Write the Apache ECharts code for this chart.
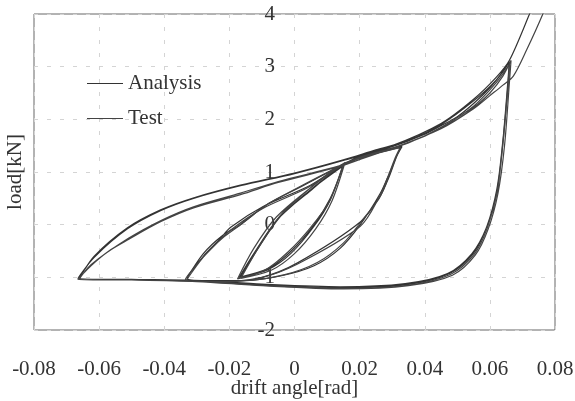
<!DOCTYPE html>
<html>
<head>
<meta charset="utf-8">
<script src="https://cdn.jsdelivr.net/npm/echarts@6/dist/echarts.min.js"></script>
<style>
html,body{margin:0;padding:0;background:#fff;}
#chart{width:575px;height:401px;}
</style>
</head>
<body>
<div id="chart"></div>
<script>
// Drift angle [rad] and load [kN]
const analysisDrift = [
  -0.0043, 0.0049, 0.015,
  0.011, 0.006, -0.001, -0.008, -0.0166,
  -0.0114, -0.0043, 0.0049, 0.015,
  0.011, 0.006, -0.001, -0.008, -0.017,
  -0.012, -0.005, 0.005, 0.015, 0.022, 0.028, 0.033,
  0.0314, 0.029, 0.0264, 0.0202, 0.014, 0.006, -0.004, -0.015, -0.025, -0.033,
  -0.028, -0.023, -0.0196, -0.0095, 0.0049, 0.015, 0.022, 0.028, 0.033,
  0.0314, 0.029, 0.0264, 0.0202, 0.0008, -0.01, -0.02, -0.033,
  -0.028, -0.022, -0.0166, -0.008, 0.002, 0.013, 0.02, 0.03, 0.04, 0.045, 0.05, 0.055, 0.06, 0.064, 0.066,
  0.0657, 0.0641, 0.0621, 0.0591, 0.055, 0.0478, 0.0345, 0.014, -0.01, -0.03, -0.05, -0.066,
  -0.0615, -0.0513, -0.0411, -0.0309, -0.0166, 0.0, 0.015, 0.025, 0.035, 0.045, 0.055, 0.062, 0.066,
  0.0655, 0.064, 0.062, 0.059, 0.0545, 0.047, 0.034, 0.014, -0.01, -0.03, -0.05, -0.0665,
  -0.0615, -0.0513, -0.041, -0.031, -0.0166, 0.0, 0.015, 0.03, 0.045, 0.055, 0.062, 0.066, 0.0723, 0.074
];
const analysisLoad = [
  0.16, 0.66, 1.15,
  0.47, -0.03, -0.54, -0.85, -1.0,
  -0.47, 0.16, 0.66, 1.12,
  0.5, 0.0, -0.5, -0.83, -1.0,
  -0.5, 0.12, 0.65, 1.15, 1.3, 1.4, 1.48,
  1.3, 0.95, 0.6, 0.0, -0.45, -0.78, -0.97, -1.06, -1.06, -1.02,
  -0.6, -0.28, -0.05, 0.35, 0.75, 1.15, 1.32, 1.42, 1.5,
  1.3, 0.9, 0.55, 0.05, -0.73, -1.0, -1.07, -1.03,
  -0.55, -0.2, 0.0, 0.4, 0.72, 1.08, 1.3, 1.48, 1.72, 1.88, 2.05, 2.3, 2.6, 2.9, 3.1,
  2.8, 1.61, 0.66, -0.03, -0.54, -0.92, -1.14, -1.2, -1.15, -1.07, -1.04, -1.02,
  -0.6, -0.06, 0.28, 0.51, 0.75, 0.98, 1.23, 1.42, 1.6, 1.9, 2.35, 2.75, 3.1,
  2.7, 1.6, 0.6, -0.05, -0.55, -0.93, -1.12, -1.18, -1.13, -1.06, -1.04, -1.02,
  -0.62, -0.08, 0.27, 0.5, 0.74, 0.97, 1.22, 1.5, 1.92, 2.38, 2.8, 3.12, 4.02, 4.3
];
const testDrift = [
  -0.004, 0.005, 0.0155,
  0.0115, 0.0065, 0.0, -0.007, -0.0165,
  -0.011, -0.004, 0.005, 0.015,
  0.0105, 0.005, -0.002, -0.009, -0.0175,
  -0.0125, -0.0055, 0.0045, 0.0145, 0.021, 0.027, 0.0325,
  0.031, 0.0285, 0.026, 0.021, 0.015, 0.007, -0.003, -0.016, -0.026, -0.0335,
  -0.0285, -0.0235, -0.02, -0.01, 0.004, 0.014, 0.021, 0.027, 0.0325,
  0.031, 0.0285, 0.026, 0.0202, 0.0008, -0.011, -0.021, -0.033,
  -0.0275, -0.022, -0.017, -0.009, 0.001, 0.012, 0.02, 0.03, 0.04, 0.045, 0.05, 0.055, 0.06, 0.064, 0.0665,
  0.066, 0.0645, 0.0625, 0.0595, 0.0555, 0.0485, 0.035, 0.015, -0.01, -0.03, -0.05, -0.0665,
  -0.0625, -0.057, -0.051, -0.041, -0.031, -0.0166, -0.005, 0.0141, 0.025, 0.035, 0.045, 0.055, 0.062, 0.066,
  0.0655, 0.064, 0.0622, 0.0592, 0.0552, 0.048, 0.0345, 0.014, -0.01, -0.03, -0.05, -0.066,
  -0.0625, -0.051, -0.041, -0.031, -0.0166, -0.005, 0.014, 0.03, 0.045, 0.055, 0.06, 0.064, 0.0672, 0.0713, 0.0764, 0.078
];
const testLoad = [
  0.2, 0.7, 1.18,
  0.45, -0.08, -0.55, -0.86, -1.02,
  -0.43, 0.2, 0.7, 1.15,
  0.42, -0.05, -0.52, -0.86, -1.03,
  -0.45, 0.15, 0.68, 1.14, 1.28, 1.38, 1.46,
  1.25, 0.85, 0.5, 0.1, -0.35, -0.72, -0.95, -1.07, -1.08, -1.04,
  -0.65, -0.33, -0.12, 0.3, 0.7, 1.1, 1.29, 1.4, 1.47,
  1.28, 0.88, 0.52, -0.03, -0.75, -1.02, -1.08, -1.05,
  -0.58, -0.25, -0.02, 0.36, 0.7, 1.05, 1.28, 1.45, 1.68, 1.84, 2.0, 2.22, 2.5, 2.82, 3.12,
  2.7, 1.5, 0.6, -0.08, -0.58, -0.96, -1.16, -1.22, -1.16, -1.08, -1.05, -1.04,
  -0.78, -0.5, -0.28, 0.06, 0.32, 0.57, 0.8, 1.11, 1.35, 1.55, 1.85, 2.25, 2.7, 3.05,
  2.6, 1.55, 0.62, -0.06, -0.56, -0.94, -1.15, -1.21, -1.15, -1.07, -1.05, -1.03,
  -0.76, -0.26, 0.08, 0.34, 0.6, 0.82, 1.12, 1.45, 1.82, 2.2, 2.45, 2.65, 2.82, 3.32, 4.02, 4.3
];
const xTicks = { min: -0.08, max: 0.08, step: 0.02 };
const yTicks = { min: -2, max: 4, step: 1 };
const seriesNames = ['Analysis', 'Test'];

function pairs(xs, ys) { return xs.map((x, i) => [x, ys[i]]); }

const FONT = '"Liberation Serif", "DejaVu Serif", serif';
const chart = echarts.init(document.getElementById('chart'), null, { renderer: 'canvas' });
chart.setOption({
  animation: false,
  backgroundColor: '#fff',
  grid: { left: 34, right: 20, top: 14, bottom: 71, show: true, borderColor: '#666', borderWidth: 1,
          containLabel: false, outerBoundsMode: 'none' },
  legend: {
    orient: 'vertical', left: 82, top: 68, itemGap: 14, itemWidth: 36, itemHeight: 1.2,
    icon: 'rect',
    textStyle: { fontFamily: FONT, fontSize: 21, color: '#333' },
    data: seriesNames
  },
  xAxis: {
    type: 'value', min: xTicks.min, max: xTicks.max, interval: xTicks.step,
    name: 'drift angle[rad]', nameLocation: 'middle', nameGap: 48, nameMoveOverlap: false,
    nameTextStyle: { fontFamily: FONT, fontSize: 21, color: '#333' },
    axisLine: { show: false, onZero: false },
    axisTick: { show: false },
    axisLabel: { margin: 29, fontFamily: FONT, fontSize: 21, color: '#333',
      formatter: v => (Math.abs(v) < 1e-9 ? '0' : v.toFixed(2)) },
    splitLine: { show: true, lineStyle: { color: '#d4d4d4', type: [4, 9], width: 1 } }
  },
  yAxis: [{
    type: 'value', min: yTicks.min, max: yTicks.max, interval: yTicks.step,
    position: 'left', offset: -260,
    axisLine: { show: false, onZero: false },
    axisTick: { show: false },
    axisLabel: { margin: 19, padding: [5, 0, 0, 0], fontFamily: FONT, fontSize: 21, color: '#333' },
    splitLine: { show: true, lineStyle: { color: '#d4d4d4', type: [4, 9], width: 1 } }
  }, {
    type: 'value', min: yTicks.min, max: yTicks.max, interval: yTicks.step,
    position: 'left', offset: 0,
    name: 'load[kN]', nameLocation: 'middle', nameGap: 8, nameMoveOverlap: false,
    nameTextStyle: { fontFamily: FONT, fontSize: 21, color: '#333' },
    axisLine: { show: false, onZero: false }, axisTick: { show: false },
    axisLabel: { show: false }, splitLine: { show: false }
  }],
  series: [
    { name: seriesNames[0], type: 'line', yAxisIndex: 0, data: pairs(analysisDrift, analysisLoad),
      showSymbol: false, symbol: 'none', smooth: 0.3, clip: true,
      lineStyle: { color: '#333', width: 1.2 }, itemStyle: { color: '#333' } },
    { name: seriesNames[1], type: 'line', yAxisIndex: 0, data: pairs(testDrift, testLoad),
      showSymbol: false, symbol: 'none', smooth: 0.3, clip: true,
      lineStyle: { color: '#444', width: 1.2 }, itemStyle: { color: '#444' } }
  ]
});
</script>
</body>
</html>
